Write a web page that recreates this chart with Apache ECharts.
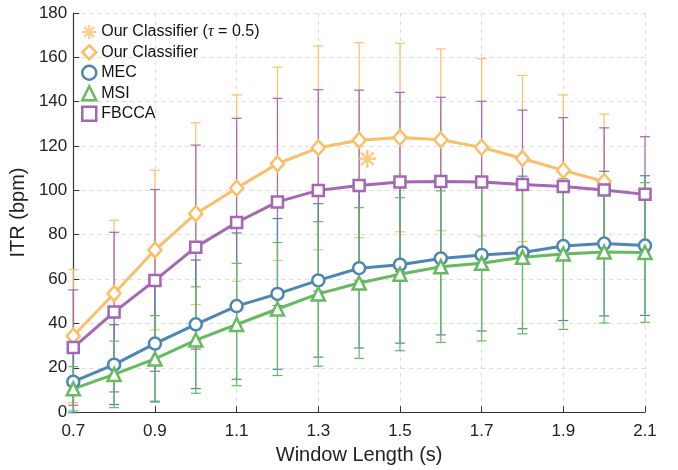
<!DOCTYPE html>
<html>
<head>
<meta charset="utf-8">
<script src="https://cdn.jsdelivr.net/npm/echarts@6/dist/echarts.min.js"></script>
<style>
  html, body { margin: 0; padding: 0; background: #fff; }
  #chart { width: 678px; height: 470px; }
</style>
</head>
<body>
<div id="chart"></div>
<script>
// window lengths (s)
var windowLen = [0.7, 0.8, 0.9, 1.0, 1.1, 1.2, 1.3, 1.4, 1.5, 1.6, 1.7, 1.8, 1.9, 2.0, 2.1];

// mean ITR (bpm) and standard deviation per method
var oursMean = [34.3, 53.5, 73.1, 89.5, 101, 112, 119.2, 122.6, 123.8, 122.8, 119.4, 114.4, 109, 104];
var oursStd = [30, 33, 36, 41, 42, 43.6, 46, 44, 42.5, 41, 40, 37.5, 34, 30.4];
var mecMean = [13.7, 21.4, 30.9, 39.6, 47.8, 53.3, 59.4, 64.9, 66.5, 69.3, 70.9, 72, 74.9, 76, 75.1];
var mecStd = [14, 18, 26, 29, 33, 34, 34.6, 36, 35.4, 34.5, 34.3, 34.4, 33.6, 32.6, 31.5];
var msiMean = [10.5, 17, 24, 32.5, 39.5, 46.5, 53.3, 58.2, 62.2, 65.6, 67.1, 69.8, 71.3, 72.2, 72];
var msiStd = [10, 15, 19.5, 24, 27.6, 30, 32.6, 34, 34.5, 34.2, 35, 34.5, 34, 32, 31.5];
var fbccaMean = [29.1, 45.1, 59.4, 74.4, 85.5, 94.8, 100, 102.2, 103.8, 104, 103.8, 102.7, 101.8, 100.2, 98.2];
var fbccaStd = [26, 36, 41, 46, 47, 46.7, 45.4, 43, 40.4, 38, 36.4, 33.5, 31, 28, 26];

// single operating point of the classifier with tau = 0.5
var tauPoint = [1.42, 114.3];

var names = ['Our Classifier (τ = 0.5)', 'Our Classifier', 'MEC', 'MSI', 'FBCCA'];
var colors = {
  ours: '#FBBE69',
  mec: '#4E86B1',
  msi: '#66BA5F',
  fbcca: '#A566B3'
};

// 8-arm asterisk outline (one polygon, so no fill holes)
function asteriskPath(len, hw) {
  var pts = [];
  var r = hw / Math.sin(Math.PI / 8);
  for (var k = 0; k < 8; k++) {
    var a = k * Math.PI / 4;
    var dx = Math.cos(a), dy = Math.sin(a);
    var px = -dy, py = dx;
    pts.push([len * dx - hw * px, len * dy - hw * py]);
    pts.push([len * dx + hw * px, len * dy + hw * py]);
    var b = a + Math.PI / 8;
    pts.push([r * Math.cos(b), r * Math.sin(b)]);
  }
  return 'path://' + pts.map(function (p, i) {
    return (i ? 'L' : 'M') + p[0].toFixed(2) + ',' + p[1].toFixed(2);
  }).join('') + 'Z';
}
var starPath = asteriskPath(10, 1.4);

function pairs(mean) {
  return mean.map(function (v, i) { return [windowLen[i], v]; });
}

function errData(mean, std) {
  return mean.map(function (v, i) { return [windowLen[i], v - std[i], v + std[i]]; });
}

function errSeries(mean, std, color) {
  return {
    type: 'custom',
    silent: true,
    z: 1,
    data: errData(mean, std),
    renderItem: function (params, api) {
      var x = api.value(0);
      var lo = api.coord([x, api.value(1)]);
      var hi = api.coord([x, api.value(2)]);
      var w = 5;
      var st = { stroke: color, lineWidth: 1.2 };
      return {
        type: 'group',
        children: [
          { type: 'line', shape: { x1: lo[0], y1: lo[1], x2: hi[0], y2: hi[1] }, style: st },
          { type: 'line', shape: { x1: lo[0] - w, y1: lo[1], x2: lo[0] + w, y2: lo[1] }, style: st },
          { type: 'line', shape: { x1: hi[0] - w, y1: hi[1], x2: hi[0] + w, y2: hi[1] }, style: st }
        ]
      };
    }
  };
}

function lineSeries(name, mean, color, symbol, size) {
  return {
    name: name,
    type: 'line',
    z: 3,
    data: pairs(mean),
    symbol: symbol,
    symbolSize: size,
    showAllSymbol: true,
    lineStyle: { color: color, width: 3 },
    itemStyle: { color: '#fff', borderColor: color, borderWidth: 2.5 },
    emphasis: { disabled: true }
  };
}

var chart = echarts.init(document.getElementById('chart'));

var option = {
  animation: false,
  grid: { left: 71, right: 33, top: 13, bottom: 55 },
  legend: {
    orient: 'vertical',
    left: 76,
    top: 19,
    itemWidth: 14,
    itemHeight: 14,
    itemGap: 4,
    selectedMode: false,
    textStyle: {
      fontFamily: 'Liberation Sans',
      fontSize: 16,
      lineHeight: 16,
      color: '#111',
      rich: { i: { fontStyle: 'italic', fontFamily: 'Liberation Serif', fontSize: 16, color: '#111' } }
    },
    formatter: function (name) {
      return name.replace('τ', '{i|τ}');
    },
    data: [
      { name: names[0], icon: starPath, itemStyle: { color: colors.ours, borderWidth: 0 } },
      { name: names[1], icon: 'diamond', itemStyle: { color: '#fff', borderColor: colors.ours, borderWidth: 2.5 } },
      { name: names[2], icon: 'circle', itemStyle: { color: '#fff', borderColor: colors.mec, borderWidth: 2.5 } },
      { name: names[3], icon: 'triangle', itemStyle: { color: '#fff', borderColor: colors.msi, borderWidth: 2.5 } },
      { name: names[4], icon: 'rect', itemStyle: { color: '#fff', borderColor: colors.fbcca, borderWidth: 2.5 } }
    ]
  },
  xAxis: {
    type: 'value',
    min: 0.7,
    max: 2.1,
    interval: 0.2,
    name: 'Window Length (s)',
    nameLocation: 'middle',
    nameGap: 31,
    nameTextStyle: { fontFamily: 'Liberation Sans', fontSize: 20, color: '#222' },
    axisLine: { lineStyle: { color: '#333', width: 1.2 } },
    axisTick: { inside: true, length: 6, lineStyle: { color: '#333' } },
    axisLabel: {
      fontFamily: 'Liberation Sans', fontSize: 17, color: '#222', margin: 11,
      formatter: function (v) { return v.toFixed(1); }
    },
    splitLine: { show: true, lineStyle: { color: '#dcdcdc', type: [4, 4] } }
  },
  yAxis: {
    type: 'value',
    min: 0,
    max: 180,
    interval: 20,
    name: 'ITR (bpm)',
    nameLocation: 'middle',
    nameGap: 35,
    nameTextStyle: { fontFamily: 'Liberation Sans', fontSize: 20, color: '#222' },
    axisLine: { show: true, lineStyle: { color: '#333', width: 1.2 } },
    axisTick: { show: true, inside: true, length: 6, lineStyle: { color: '#333' } },
    axisLabel: { fontFamily: 'Liberation Sans', fontSize: 17, color: '#222', margin: 6 },
    splitLine: { show: true, lineStyle: { color: '#dcdcdc', type: [4, 4] } }
  },
  series: [
    errSeries(oursMean, oursStd, colors.ours),
    errSeries(fbccaMean, fbccaStd, colors.fbcca),
    errSeries(mecMean, mecStd, colors.mec),
    errSeries(msiMean, msiStd, colors.msi),
    lineSeries(names[1], oursMean, colors.ours, 'diamond', [13, 15]),
    lineSeries(names[4], fbccaMean, colors.fbcca, 'rect', 11),
    lineSeries(names[2], mecMean, colors.mec, 'circle', 12),
    lineSeries(names[3], msiMean, colors.msi, 'triangle', 13),
    {
      name: names[0],
      type: 'scatter',
      z: 4,
      data: [tauPoint],
      symbol: starPath,
      symbolSize: 18,
      itemStyle: { color: colors.ours },
      emphasis: { disabled: true }
    }
  ]
};

chart.setOption(option);
</script>
</body>
</html>
